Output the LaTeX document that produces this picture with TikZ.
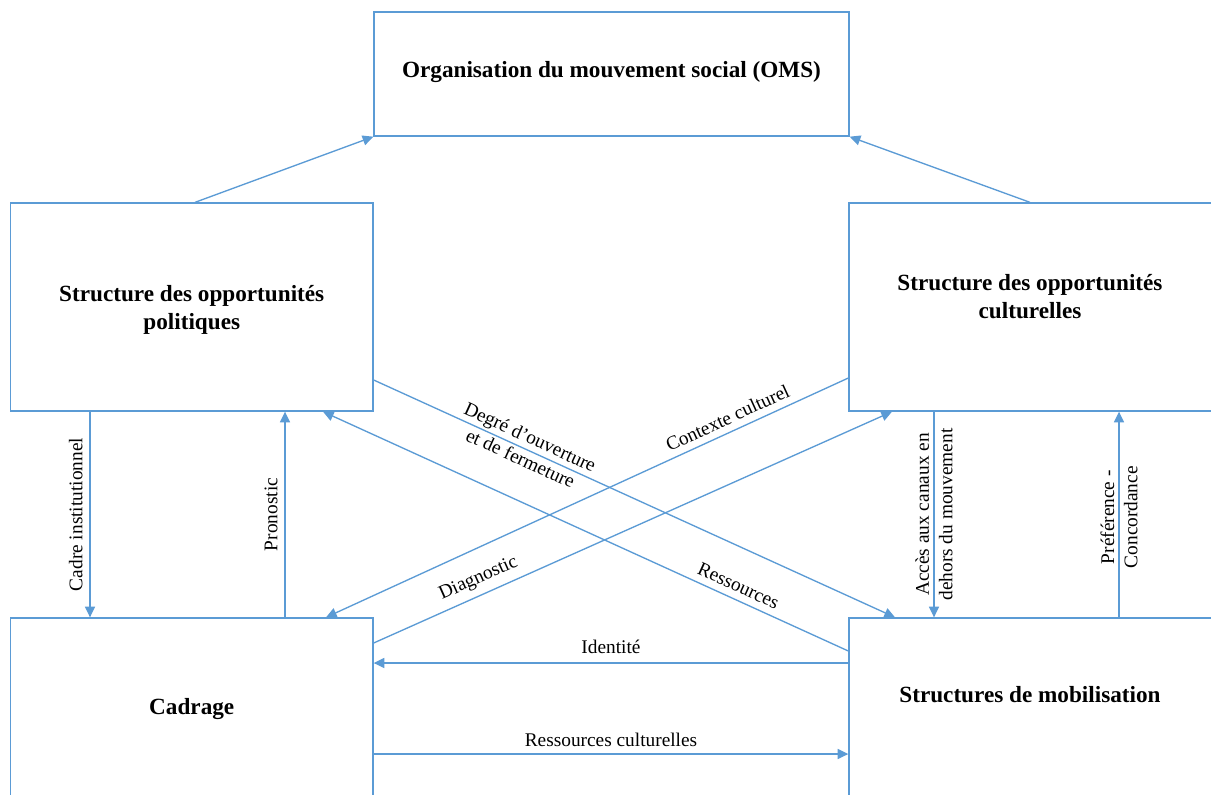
\documentclass[tikz,border=0pt]{standalone}
\usepackage{fontspec}
\setmainfont{Liberation Serif}
\usetikzlibrary{arrows.meta}
\definecolor{lineblue}{HTML}{5B9BD5}
\begin{document}
\begin{tikzpicture}[x=0.75pt,y=-0.75pt,
  box/.style={draw=lineblue, line width=1pt, fill=white, inner sep=0pt},
  boxtext/.style={font=\bfseries\fontsize{17.4}{21}\selectfont, align=center, inner sep=0pt},
  conn/.style={draw=lineblue, line width=1pt, -{Triangle[length=8pt,width=7.5pt]}},
  lbl/.style={font=\fontsize{14.5}{17.5}\selectfont, inner sep=5pt, text=black},
  lbltwo/.style={font=\fontsize{14.5}{17.5}\selectfont, inner sep=0pt, align=center, text=black}]
\useasboundingbox (0,0) rectangle (1211,794);
\fill[white] (0,0) rectangle (1211,794);

% boxes
\node[box, minimum width=356.25pt, minimum height=93pt,
      label={[boxtext, yshift=1.5pt]center:Organisation du mouvement social (OMS)}] (oms) at (611.5,74) {};
\node[box, minimum width=271.9pt, minimum height=156pt,
      label={[boxtext, yshift=-2pt]center:{Structure des opportunités\\politiques}}] (sop) at (191.75,307) {};
\node[box, minimum width=273pt, minimum height=156pt,
      label={[boxtext, yshift=8pt, xshift=-0.75pt]center:{Structure des opportunités\\culturelles}}] (soc) at (1031,307) {};
\node[box, minimum width=271.9pt, minimum height=136.5pt,
      label={[boxtext]center:Cadrage}] (cad) at (191.75,709) {};
\node[box, minimum width=273pt, minimum height=136.5pt,
      label={[boxtext, yshift=10.5pt, xshift=-0.75pt]center:Structures de mobilisation}] (sm) at (1031,709) {};

% to OMS
\draw[conn] (195,0 |- sop.north) -- (oms.south west);
\draw[conn] (1030,0 |- soc.north) -- (oms.south east);

% left verticals
\draw[conn] (90,0 |- sop.south) -- node[lbl, rotate=90, anchor=south] {Cadre institutionnel} (90,0 |- cad.north);
\draw[conn] (285,0 |- cad.north) -- node[lbl, rotate=90, anchor=south] {Pronostic} (285,0 |- sop.south);

% right verticals
\draw[conn] (934,0 |- soc.south) -- node[lbltwo, rotate=90, yshift=0pt, xshift=0pt] {Accès aux canaux en\\dehors du mouvement} (934,0 |- sm.north);
\draw[conn] (1119,0 |- sm.north) -- node[lbltwo, rotate=90, xshift=-2pt] {Préférence -\\Concordance} (1119,0 |- soc.south);

% diagonals
\draw[conn] (sop.east |- 0,380) -- node[lbltwo, sloped, pos=0.29, yshift=1pt] {Degré d'ouverture\\et de fermeture} (895,0 |- sm.north);
\draw[conn] (sm.west |- 0,651) -- node[lbl, sloped, above, pos=0.22] {Ressources} (323,0 |- sop.south);
\draw[conn] (soc.west |- 0,378) -- node[lbl, sloped, above, pos=0.22] {Contexte culturel} (326,0 |- cad.north);
\draw[conn] (cad.east |- 0,643) -- node[lbl, sloped, above, pos=0.215] {Diagnostic} (892,0 |- soc.south);

% horizontals
\draw[conn] (sm.west |- 0,663) -- node[lbl, above, inner sep=6.5pt] {Identité} (cad.east |- 0,663);
\draw[conn] (cad.east |- 0,754) -- node[lbl, above] {Ressources culturelles} (sm.west |- 0,754);
\end{tikzpicture}
\end{document}
